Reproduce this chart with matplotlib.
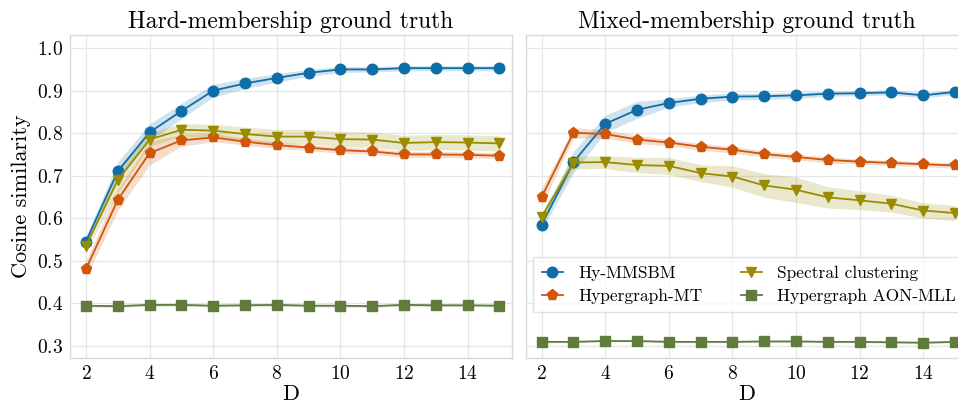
import numpy as np
import matplotlib
matplotlib.use("Agg")
import matplotlib.pyplot as plt

plt.rcParams["font.family"] = "serif"
plt.rcParams["font.serif"] = ["cmr10", "DejaVu Serif"]
plt.rcParams["mathtext.fontset"] = "cm"
plt.rcParams["axes.formatter.use_mathtext"] = True

D = np.arange(2, 16)

# Hard-membership ground truth: mean and band half-width
hard_hy = [0.545, 0.710, 0.802, 0.852, 0.900, 0.917, 0.930, 0.942, 0.950, 0.950, 0.953, 0.953, 0.953, 0.953]
hard_hy_err = [0.012, 0.022, 0.020, 0.018, 0.015, 0.012, 0.010, 0.008, 0.007, 0.006, 0.006, 0.006, 0.006, 0.006]
hard_mt = [0.480, 0.643, 0.753, 0.783, 0.790, 0.780, 0.772, 0.766, 0.760, 0.757, 0.750, 0.750, 0.749, 0.747]
hard_mt_err = [0.020, 0.025, 0.028, 0.014, 0.010, 0.008, 0.008, 0.007, 0.007, 0.007, 0.007, 0.007, 0.007, 0.007]
hard_sc = [0.535, 0.690, 0.785, 0.808, 0.806, 0.798, 0.792, 0.792, 0.786, 0.785, 0.777, 0.779, 0.778, 0.776]
hard_sc_err = [0.012, 0.030, 0.016, 0.015, 0.015, 0.016, 0.017, 0.017, 0.018, 0.018, 0.018, 0.018, 0.018, 0.018]
hard_aon = [0.394, 0.393, 0.396, 0.396, 0.394, 0.395, 0.396, 0.394, 0.394, 0.393, 0.396, 0.395, 0.395, 0.394]
hard_aon_err = [0.003] * 14

# Mixed-membership ground truth
mix_hy = [0.584, 0.732, 0.822, 0.855, 0.871, 0.881, 0.886, 0.887, 0.889, 0.893, 0.894, 0.896, 0.889, 0.897]
mix_hy_err = [0.012, 0.025, 0.020, 0.020, 0.010, 0.009, 0.008, 0.007, 0.007, 0.006, 0.006, 0.006, 0.006, 0.006]
mix_mt = [0.650, 0.801, 0.798, 0.785, 0.778, 0.768, 0.761, 0.751, 0.744, 0.737, 0.733, 0.730, 0.727, 0.724]
mix_mt_err = [0.020, 0.012, 0.010, 0.009, 0.008, 0.008, 0.008, 0.007, 0.007, 0.007, 0.006, 0.006, 0.006, 0.006]
mix_sc = [0.603, 0.731, 0.732, 0.725, 0.723, 0.706, 0.698, 0.677, 0.667, 0.649, 0.642, 0.634, 0.618, 0.612]
mix_sc_err = [0.010, 0.015, 0.015, 0.018, 0.020, 0.020, 0.025, 0.028, 0.030, 0.025, 0.022, 0.020, 0.018, 0.018]
mix_aon = [0.309, 0.309, 0.311, 0.311, 0.309, 0.309, 0.309, 0.310, 0.310, 0.309, 0.309, 0.308, 0.307, 0.309]
mix_aon_err = [0.002] * 14

labels = ["Hy-MMSBM", "Hypergraph-MT", "Spectral clustering", "Hypergraph AON-MLL"]
colors = ["#0f6ea8", "#d0560a", "#9a8c00", "#607c3c"]
markers = ["o", "p", "v", "s"]
msizes = [7.6, 8.0, 7.6, 7.0]

panels = [
    ("Hard-membership ground truth",
     [(hard_hy, hard_hy_err), (hard_mt, hard_mt_err), (hard_sc, hard_sc_err), (hard_aon, hard_aon_err)]),
    ("Mixed-membership ground truth",
     [(mix_hy, mix_hy_err), (mix_mt, mix_mt_err), (mix_sc, mix_sc_err), (mix_aon, mix_aon_err)]),
]

fig = plt.figure(figsize=(9.58, 4.07), dpi=100)
ax1 = fig.add_axes([0.0731, 0.1204, 0.4614, 0.7936])
ax2 = fig.add_axes([0.5488, 0.1204, 0.4614, 0.7936], sharey=ax1)

for ax, (title, series) in zip([ax1, ax2], panels):
    for (vals, err), lab, c, m, s in zip(series, labels, colors, markers, msizes):
        vals = np.array(vals)
        err = np.array(err)
        ax.fill_between(D, vals - err, vals + err, color=c, alpha=0.2, lw=0)
        ax.plot(D, vals, color=c, marker=m, ms=s, lw=1.3, mec=c, label=lab)
    ax.set_title(title, fontsize=17, pad=5)
    ax.set_xlabel("D", fontsize=16, labelpad=1)
    ax.set_xticks([2, 4, 6, 8, 10, 12, 14])
    ax.set_xlim(1.5, 15.4)
    ax.grid(True, color="#e6e6e6", lw=0.9)
    ax.set_axisbelow(True)
    ax.tick_params(length=0, labelsize=14, pad=5)
    for sp in ax.spines.values():
        sp.set_color("#d9d9d9")
        sp.set_linewidth(1.0)

ax1.set_ylim(0.271, 1.031)
ax1.set_yticks([0.3, 0.4, 0.5, 0.6, 0.7, 0.8, 0.9, 1.0])
ax1.set_ylabel("Cosine similarity", fontsize=16, labelpad=4)
plt.setp(ax2.get_yticklabels(), visible=False)

ax2.legend(ncol=2, loc="lower left", bbox_to_anchor=(0.005, 0.125), fontsize=12.5,
           frameon=True, edgecolor="#d9d9d9", fancybox=False, handlelength=1.2,
           columnspacing=2.2, handletextpad=0.9, borderpad=0.5, labelspacing=0.45,
           borderaxespad=0.3)

fig.savefig("out.png", dpi=100)
